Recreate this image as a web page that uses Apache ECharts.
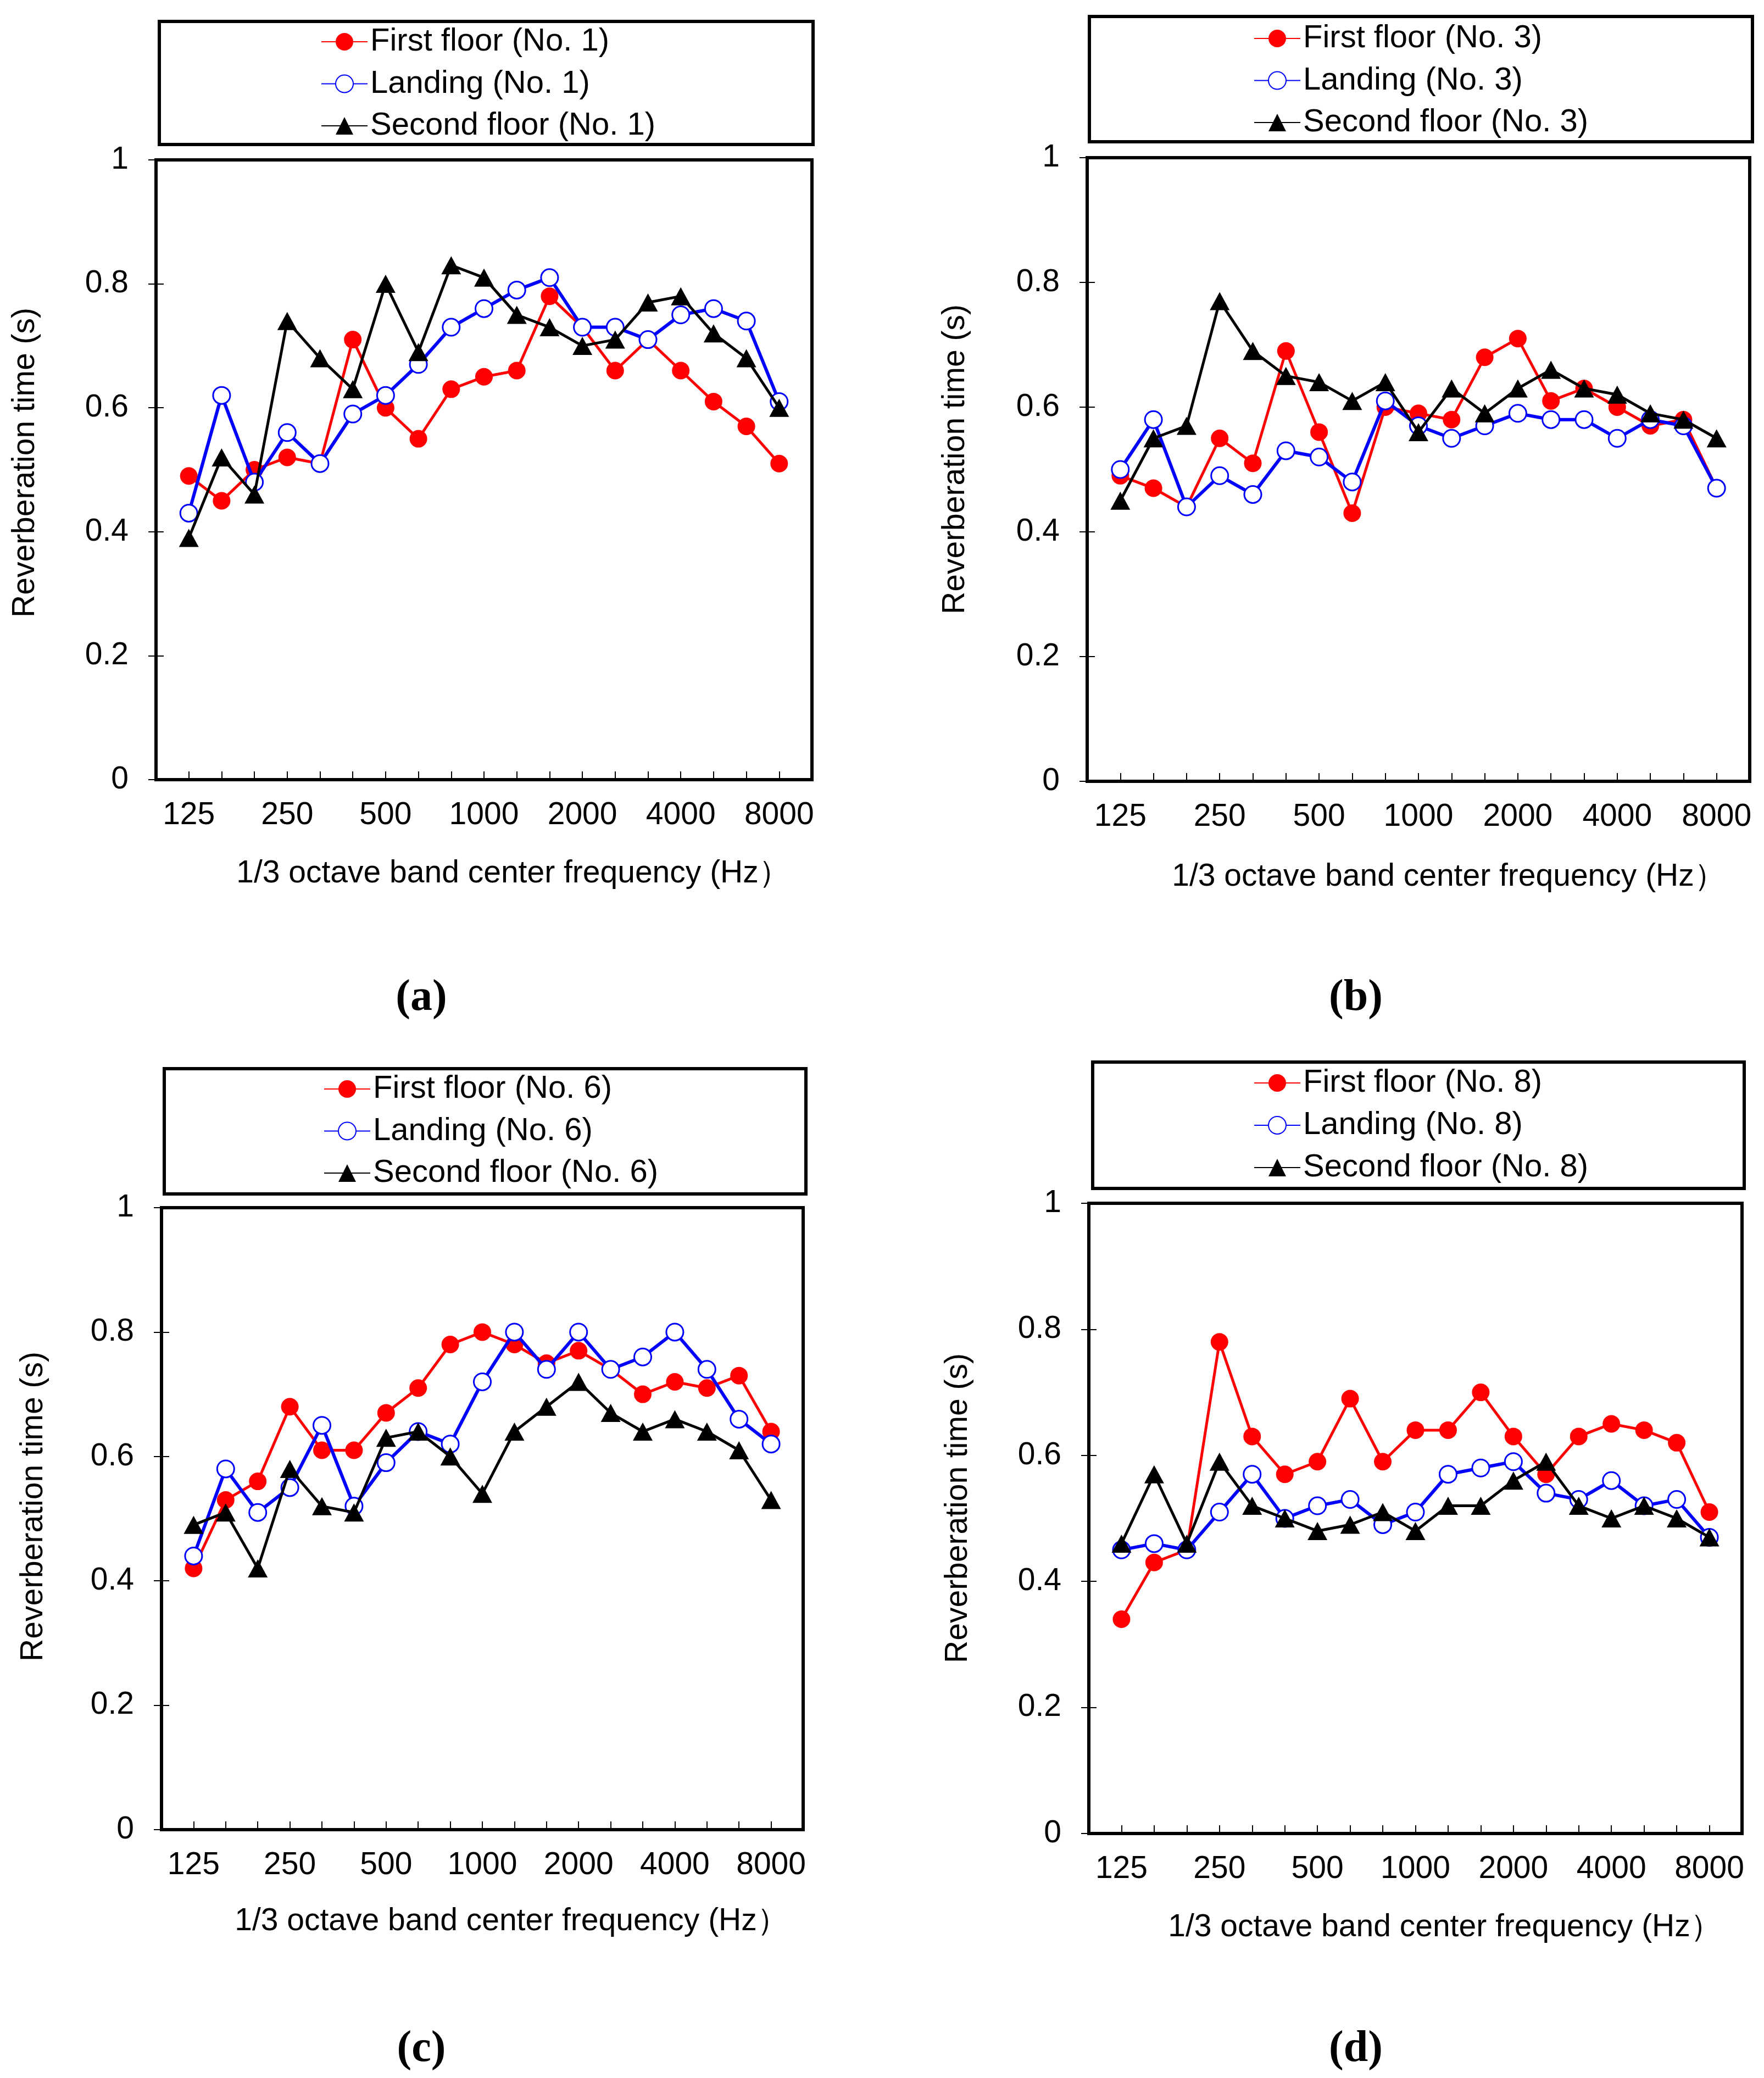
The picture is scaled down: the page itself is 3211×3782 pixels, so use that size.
<!DOCTYPE html>
<html>
<head>
<meta charset="utf-8">
<script src="https://cdn.jsdelivr.net/npm/echarts@6/dist/echarts.min.js"></script>
<style>
  html, body { margin: 0; padding: 0; background: #fff; }
  #chart { width: 3211px; height: 3782px; }
</style>
</head>
<body>
<div id="chart"></div>
<script>
// ---- data ----
const bands = ['125','160','200','250','315','400','500','630','800','1000','1250','1600','2000','2500','3150','4000','5000','6300','8000'];
const xTickLabels = ['125','250','500','1000','2000','4000','8000'];
const yMin = 0, yMax = 1, yStep = 0.2;

const a_first   = [0.49,0.45,0.50,0.52,0.51,0.71,0.60,0.55,0.63,0.65,0.66,0.78,0.73,0.66,0.71,0.66,0.61,0.57,0.51];
const a_landing = [0.43,0.62,0.48,0.56,0.51,0.59,0.62,0.67,0.73,0.76,0.79,0.81,0.73,0.73,0.71,0.75,0.76,0.74,0.61];
const a_second  = [0.39,0.52,0.46,0.74,0.68,0.63,0.80,0.69,0.83,0.81,0.75,0.73,0.70,0.71,0.77,0.78,0.72,0.68,0.60];

const b_first   = [0.49,0.47,0.44,0.55,0.51,0.69,0.56,0.43,0.60,0.59,0.58,0.68,0.71,0.61,0.63,0.60,0.57,0.58,0.47];
const b_landing = [0.50,0.58,0.44,0.49,0.46,0.53,0.52,0.48,0.61,0.57,0.55,0.57,0.59,0.58,0.58,0.55,0.58,0.57,0.47];
const b_second  = [0.45,0.55,0.57,0.77,0.69,0.65,0.64,0.61,0.64,0.56,0.63,0.59,0.63,0.66,0.63,0.62,0.59,0.58,0.55];

const c_first   = [0.42,0.53,0.56,0.68,0.61,0.61,0.67,0.71,0.78,0.80,0.78,0.75,0.77,0.74,0.70,0.72,0.71,0.73,0.64];
const c_landing = [0.44,0.58,0.51,0.55,0.65,0.52,0.59,0.64,0.62,0.72,0.80,0.74,0.80,0.74,0.76,0.80,0.74,0.66,0.62];
const c_second  = [0.49,0.51,0.42,0.58,0.52,0.51,0.63,0.64,0.60,0.54,0.64,0.68,0.72,0.67,0.64,0.66,0.64,0.61,0.53];

const d_first   = [0.34,0.43,0.45,0.78,0.63,0.57,0.59,0.69,0.59,0.64,0.64,0.70,0.63,0.57,0.63,0.65,0.64,0.62,0.51];
const d_landing = [0.45,0.46,0.45,0.51,0.57,0.50,0.52,0.53,0.49,0.51,0.57,0.58,0.59,0.54,0.53,0.56,0.52,0.53,0.47];
const d_second  = [0.46,0.57,0.46,0.59,0.52,0.50,0.48,0.49,0.51,0.48,0.52,0.52,0.56,0.59,0.52,0.50,0.52,0.50,0.47];

const panelTags = ['(a)','(b)','(c)','(d)'];
const roomNos = ['1','3','6','8'];
const seriesNames = ['First floor','Landing','Second floor'];
const yTitle = 'Reverberation time (s)';
const xTitle = '1/3 octave band center frequency (Hz\uFF09';

// ---- layout (positions/styles) ----
const panelData = [
  [a_first, a_landing, a_second],
  [b_first, b_landing, b_second],
  [c_first, c_landing, c_second],
  [d_first, d_landing, d_second]
];
const layout = [
  {grid:{left:284,top:291,width:1194,height:1128}, box:[290,39,1190,224], leg:[584,76,76.5], yT:[46,842], xT:[934,1590], tag:[767,1817]},
  {grid:{left:1979,top:287,width:1206,height:1135}, box:[1983,30,1207,228], leg:[2282,70,76.5], yT:[1739,836], xT:[2637,1596], tag:[2468,1817]},
  {grid:{left:294,top:2198,width:1168,height:1132}, box:[299,1945,1168,228], leg:[589,1982,76.5], yT:[61,2742], xT:[931,3497], tag:[767,3730]},
  {grid:{left:1982,top:2190,width:1189,height:1147}, box:[1989,1933,1186,230], leg:[2282,1971,77], yT:[1744,2745], xT:[2630,3508], tag:[2468,3730]}
];
const FONT = '"Liberation Sans", Arial, Helvetica, sans-serif';
const styles = [
  {color:'#ff0000', symbol:'circle', size:32, lw:5, item:{color:'#ff0000'}},
  {color:'#0000ff', symbol:'circle', size:31, lw:6, item:{color:'#ffffff', borderColor:'#0000ff', borderWidth:3}},
  {color:'#000000', symbol:'triangle', size:[36,33], lw:5, item:{color:'#000000'}}
];

const grids = [], xAxes = [], yAxes = [], series = [], legends = [], graphics = [];

layout.forEach((L, p) => {
  grids.push(Object.assign({show:true, borderColor:'#000', borderWidth:6, backgroundColor:'transparent'}, L.grid));
  xAxes.push({
    type:'value', gridIndex:p, min:0, max:bands.length + 1, interval:1,
    axisLine:{show:false},
    axisTick:{show:true, inside:true, length:15, lineStyle:{color:'#000', width:2}},
    splitLine:{show:false},
    axisLabel:{
      show:true, margin:37, fontSize:57, fontFamily:FONT, color:'#000',
      formatter: v => { const b = bands[v - 1]; return (b && xTickLabels.indexOf(b) >= 0) ? b : ''; }
    }
  });
  yAxes.push({
    type:'value', gridIndex:p, min:yMin, max:yMax, interval:yStep, position:'left',
    axisLine:{show:false},
    axisTick:{show:true, inside:false, length:14, lineStyle:{color:'#000', width:2}},
    splitLine:{show:false},
    axisLabel:{margin:50, fontSize:57, fontFamily:FONT, color:'#000'}
  });
  yAxes.push({
    type:'value', gridIndex:p, min:yMin, max:yMax, interval:yStep, position:'left', offset:0,
    axisLine:{show:false},
    axisTick:{show:true, inside:true, length:14, lineStyle:{color:'#000', width:2}},
    splitLine:{show:false},
    axisLabel:{show:false}
  });

  const names = seriesNames.map(n => n + ' (No. ' + roomNos[p] + ')');
  panelData[p].forEach((vals, k) => {
    const S = styles[k];
    series.push({
      type:'line', name:names[k], xAxisIndex:p, yAxisIndex:p * 2,
      data: vals.map((v, i) => [i + 1, v]),
      symbol:S.symbol, symbolSize:S.size, showAllSymbol:true,
      lineStyle:{color:S.color, width:S.lw},
      itemStyle:S.item,
      z: 2 + k,
      emphasis:{disabled:true}
    });
  });

  legends.push({
    orient:'vertical', left:L.leg[0], top:L.leg[1] - 29, padding:0,
    itemWidth:84, itemHeight:40, itemGap:L.leg[2] - 58,
    selectedMode:false, data:names,
    textStyle:{fontSize:58, lineHeight:58, fontFamily:FONT, color:'#000'}
  });

  graphics.push({type:'rect', shape:{x:L.box[0], y:L.box[1], width:L.box[2], height:L.box[3]},
    style:{fill:'none', stroke:'#000', lineWidth:6}, z:10});
  graphics.push({type:'text', x:L.yT[0], y:L.yT[1], rotation:Math.PI / 2,
    style:{text:yTitle, fontSize:57, fontFamily:FONT, fill:'#000', align:'center', verticalAlign:'middle'}});
  graphics.push({type:'text', x:L.xT[0], y:L.xT[1],
    style:{text:xTitle, fontSize:57, fontFamily:FONT, fill:'#000', align:'center', verticalAlign:'middle'}});
  graphics.push({type:'text', x:L.tag[0], y:L.tag[1],
    style:{text:panelTags[p], fontSize:80, fontWeight:'bold', fontFamily:'"Liberation Serif", "Times New Roman", serif', fill:'#000', align:'center', verticalAlign:'middle'}});
});

const chart = echarts.init(document.getElementById('chart'), null, {renderer:'canvas'});
chart.setOption({
  animation:false,
  backgroundColor:'#fff',
  grid:grids, xAxis:xAxes, yAxis:yAxes, series:series, legend:legends, graphic:graphics
});
</script>
</body>
</html>
